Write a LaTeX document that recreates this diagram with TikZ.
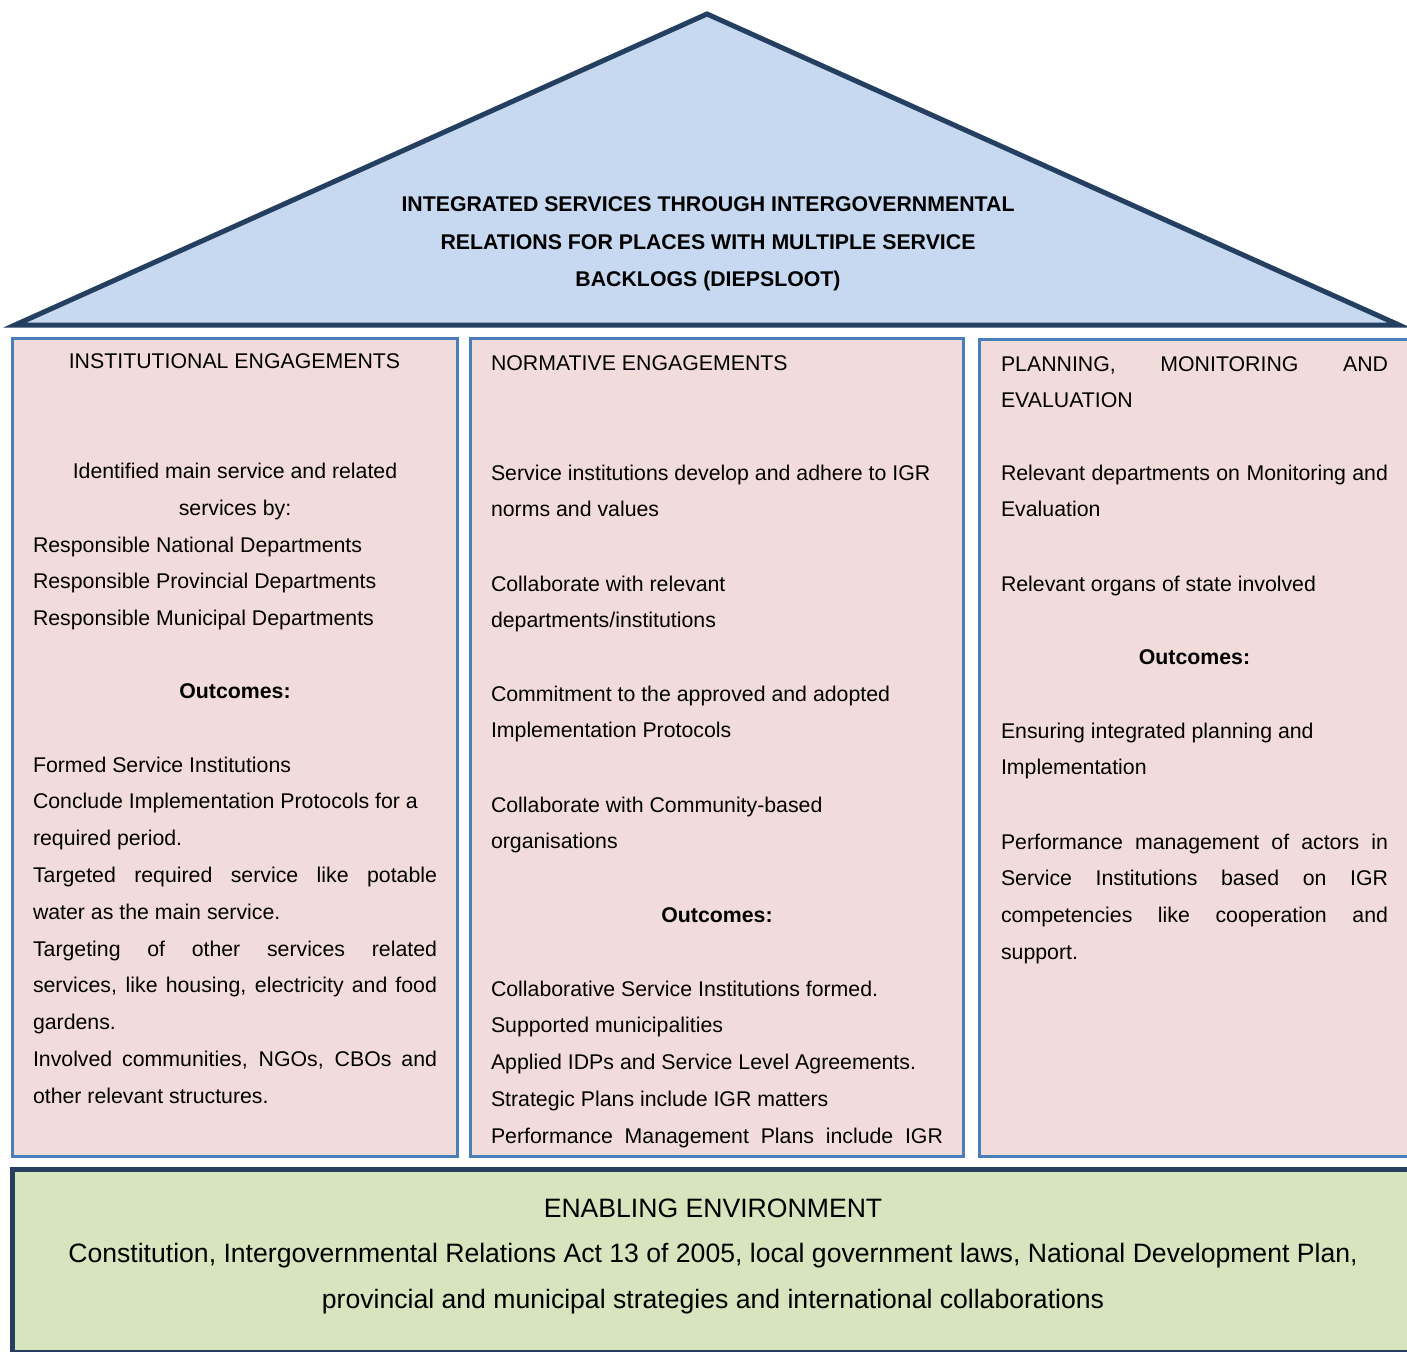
\documentclass[tikz,border=0pt]{standalone}
\usepackage{fontspec}
\setmainfont{Liberation Sans}
\definecolor{navy}{HTML}{243F60}
\definecolor{roofblue}{HTML}{C6D9F1}
\definecolor{pillarpink}{HTML}{F2DCDB}
\definecolor{pillarline}{HTML}{4A7EBB}
\definecolor{basegreen}{HTML}{D7E4BD}
\newcommand\jl[1]{\makebox[\hsize][s]{\spaceskip=0.278em plus 3em\relax #1}}
\tikzset{
  roof/.style={draw=navy, fill=roofblue, line width=5pt, line join=miter},
  pillar/.style={draw=pillarline, fill=pillarpink, line width=3pt},
  groundbox/.style={draw=navy, fill=basegreen, line width=5pt},
  txt/.style={inner sep=0pt, outer sep=0pt, font=\fontsize{21.3}{36.8}\selectfont},
  boldtxt/.style={txt, font=\fontsize{21.3}{37.5}\selectfont\bfseries},
  bigtxt/.style={inner sep=0pt, outer sep=0pt, font=\fontsize{26.6}{46}\selectfont},
  leftblock/.style={txt, anchor=base west, align=flush left, text width=#1},
}
\begin{document}
\begin{tikzpicture}[x=1pt, y=-1pt]
\useasboundingbox (0,0) rectangle (1407,1351);
\clip (0,0) rectangle (1407,1351);
% roof
\draw[roof] (707,14) -- (1399,325) -- (15,325) -- cycle;
% pillars
\draw[pillar] (12.5,338) rectangle (457,1156.5);
\draw[pillar] (470,338) rectangle (963,1156.5);
\draw[pillar] (979,339) rectangle (1430,1156.5);
% ground
\draw[groundbox] (12,1169.5) rectangle (1414,1352);

% title (base anchor = baseline of last line)
\node[boldtxt, anchor=base, align=flush center] (title) at (708,286.5)
  {INTEGRATED SERVICES THROUGH INTERGOVERNMENTAL\\RELATIONS FOR PLACES WITH MULTIPLE SERVICE\\BACKLOGS (DIEPSLOOT)};

% left pillar
\node[txt, anchor=base] (lhead) at (234.5,368) {INSTITUTIONAL ENGAGEMENTS};
\node[txt, anchor=base, align=flush center] (lid) at (235,515.5) {Identified main service and related\\services by:};
\node[leftblock=404pt] (ldep) at (33,552) {Responsible National Departments\\Responsible Provincial Departments\\Responsible Municipal Departments};
\node[boldtxt, anchor=base] (lout) at (235,698) {Outcomes:};
\node[leftblock=404pt] (litems) at (33,772) {Formed Service Institutions\\Conclude Implementation Protocols for a\\required period.\\\jl{Targeted required service like potable}\\water as the main service.\\\jl{Targeting of other services related}\\\jl{services, like housing, electricity and food}\\gardens.\\\jl{Involved communities, NGOs, CBOs and}\\other relevant structures.};

% middle pillar
\node[leftblock=452pt] (mhead) at (491,370) {NORMATIVE ENGAGEMENTS};
\node[leftblock=452pt] (m1) at (491,480) {Service institutions develop and adhere to IGR\\norms and values};
\node[leftblock=452pt] (m2) at (491,591) {Collaborate with relevant\\departments/institutions};
\node[leftblock=452pt] (m3) at (491,701) {Commitment to the approved and adopted\\Implementation Protocols};
\node[leftblock=452pt] (m4) at (491,812) {Collaborate with Community-based\\organisations};
\node[boldtxt, anchor=base] (mout) at (717,922) {Outcomes:};
\node[leftblock=452pt] (mitems) at (491,996) {Collaborative Service Institutions formed.\\Supported municipalities\\Applied IDPs and Service Level Agreements.\\Strategic Plans include IGR matters\\\jl{Performance Management Plans include IGR}};

% right pillar
\node[leftblock=387pt] (rhead) at (1001,371) {\jl{PLANNING, MONITORING AND}\\EVALUATION};
\node[leftblock=387pt] (r1) at (1001,480) {\jl{Relevant departments on Monitoring and}\\Evaluation};
\node[leftblock=387pt] (r2) at (1001,591) {Relevant organs of state involved};
\node[boldtxt, anchor=base] (rout) at (1194.5,664) {Outcomes:};
\node[leftblock=387pt] (r3) at (1001,738) {Ensuring integrated planning and\\Implementation};
\node[leftblock=387pt] (r4) at (1001,849) {\jl{Performance management of actors in}\\\jl{Service Institutions based on IGR}\\\jl{competencies like cooperation and}\\support.};

% ground text
\node[bigtxt, anchor=base] (ghead) at (713,1217) {ENABLING ENVIRONMENT};
\node[bigtxt, anchor=base, align=flush center] (gbody) at (713,1308) {Constitution, Intergovernmental Relations Act 13 of 2005, local government laws, National Development Plan,\\provincial and municipal strategies and international collaborations};
\end{tikzpicture}
\end{document}
